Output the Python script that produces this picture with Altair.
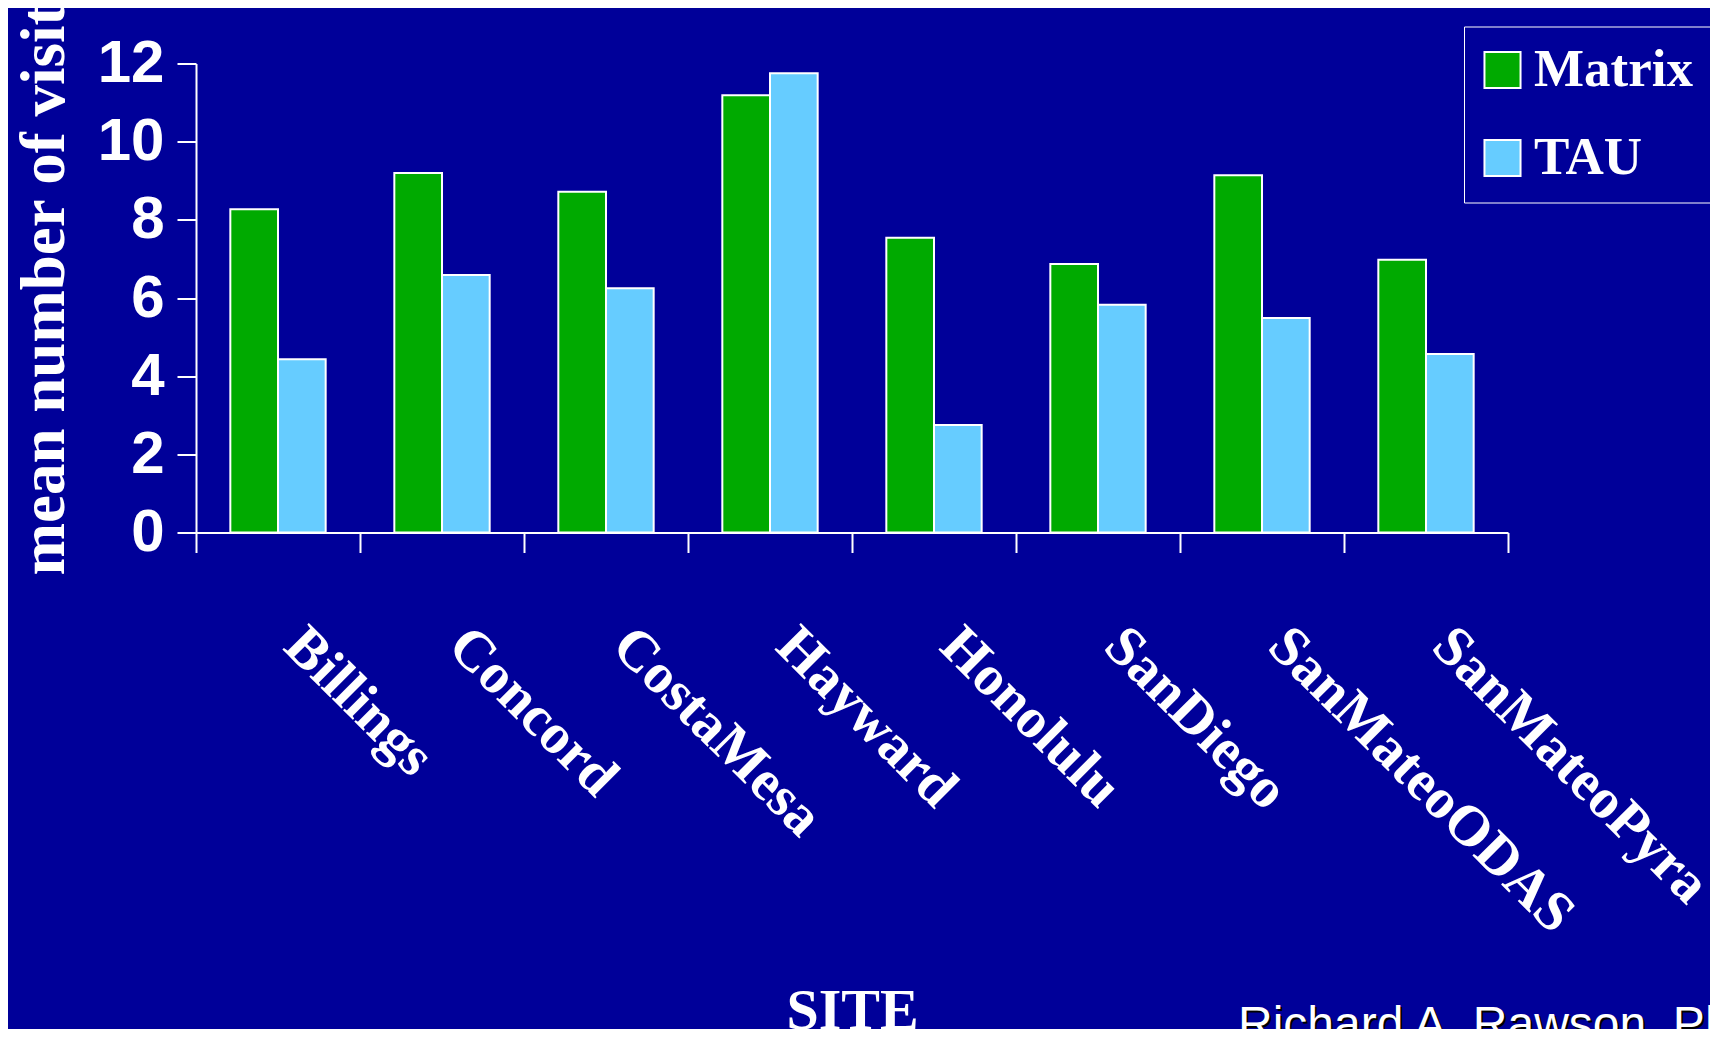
import altair as alt
import pandas as pd

sites = ["Billings", "Concord", "CostaMesa", "Hayward", "Honolulu",
         "SanDiego", "SanMateoODAS", "SanMateoPyra"]
matrix_vals = [8.27, 9.2, 8.72, 11.19, 7.54, 6.87, 9.14, 6.98]
tau_vals = [4.43, 6.59, 6.25, 11.75, 2.75, 5.83, 5.49, 4.57]
groups = ["Matrix", "TAU"]
colors = ["#00AA00", "#66CCFF"]
y_ticks = [0, 2, 4, 6, 8, 10, 12]
x_title = "SITE"
y_title = "mean number of visits"
credit = ["Richard A. Rawson, Ph.D."]
bg = "#000099"

rows = []
for s, m, t in zip(sites, matrix_vals, tau_vals):
    rows.append({"SITE": s, "group": groups[0], "value": m})
    rows.append({"SITE": s, "group": groups[1], "value": t})
df = pd.DataFrame(rows)

W, H = 1312, 469

bars = alt.Chart(df).mark_bar(stroke="white", strokeWidth=2).encode(
    x=alt.X("SITE:N", sort=sites,
            scale=alt.Scale(paddingInner=0, paddingOuter=0),
            axis=alt.Axis(title=x_title, labelAngle=45, labelAlign="left",
                          labelBaseline="top", labelOffset=35, labelPadding=64,
                          tickBand="extent", tickSize=20,
                          labelFont="Liberation Serif", labelFontWeight="bold",
                          labelFontSize=57, labelLimit=600,
                          titleFont="Liberation Serif", titleFontWeight="bold",
                          titleFontSize=58, titleBaseline="alphabetic",
                          titleAlign="center", titleX=W / 2, titleY=496)),
    xOffset=alt.XOffset("group:N", sort=groups,
                        scale=alt.Scale(paddingInner=0, paddingOuter=0.72)),
    y=alt.Y("value:Q", scale=alt.Scale(domain=[0, 12], nice=False),
            axis=alt.Axis(values=y_ticks, title=y_title, tickSize=19,
                          labelPadding=13, labelFont="Liberation Sans",
                          labelFontWeight="bold", labelFontSize=60,
                          grid=False,
                          titleFont="Liberation Serif", titleFontWeight="bold",
                          titleFontSize=63, titleAngle=-90, titleAlign="left",
                          titleBaseline="alphabetic", titleX=-133, titleY=511.5)),
    color=alt.Color("group:N", scale=alt.Scale(domain=groups, range=colors),
                    legend=alt.Legend(title=None, orient="none", legendX=1268,
                                      legendY=-37, strokeColor="white",
                                      padding=17, rowPadding=34, labelOffset=5,
                                      symbolOffset=alt.ExprRef(expr="-5"),
                                      symbolType="square", symbolSize=1300,
                                      symbolStrokeColor="white",
                                      symbolStrokeWidth=2, symbolOpacity=1,
                                      labelFont="Liberation Serif",
                                      labelFontWeight="bold", labelFontSize=53,
                                      labelColor="white", labelLimit=600)),
)

credit_df = pd.DataFrame({"t": credit})
credit_shadow = alt.Chart(credit_df).mark_text(
    align="left", baseline="alphabetic", font="Liberation Sans",
    fontSize=48, color="black"
).encode(x=alt.value(1238 - 196 + 2), y=alt.value(978.5), text="t:N")
credit_text = alt.Chart(credit_df).mark_text(
    align="left", baseline="alphabetic", font="Liberation Sans",
    fontSize=48, color="white"
).encode(x=alt.value(1238 - 196), y=alt.value(976.5), text="t:N")

chart = alt.layer(bars, credit_shadow, credit_text).properties(
    width=W, height=H,
    autosize=alt.AutoSizeParams(type="none"),
    padding={"left": 188, "top": 55.5, "right": 202, "bottom": 496.5},
    background=bg,
).configure_view(stroke=None).configure_axis(
    domainColor="white", tickColor="white", labelColor="white",
    titleColor="white", domainWidth=2, tickWidth=2,
)

chart.save("out.html", embed_options={"renderer": "svg", "actions": False})
